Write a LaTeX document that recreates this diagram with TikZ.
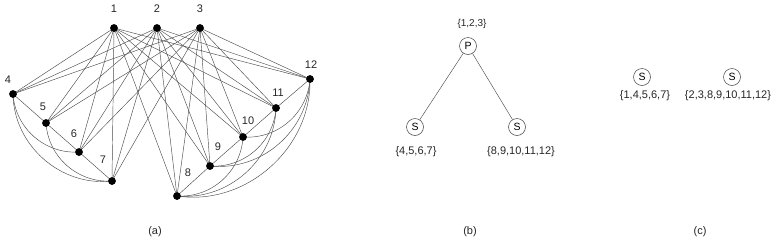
\documentclass[tikz,border=0pt]{standalone}
\usepackage{fontspec}
\setmainfont{Liberation Sans}
\begin{document}
\begin{tikzpicture}[x=1pt,y=-1pt,
  dot/.style={circle,fill=black,inner sep=0pt,minimum size=7.5pt},
  lbl/.style={font=\fontsize{11}{12}\selectfont,text=black!85,inner sep=0pt},
  edge/.style={draw=black!70,line width=0.45pt},
  snode/.style={circle,draw=black!75,line width=0.5pt,minimum size=17pt,inner sep=0pt,font=\fontsize{10.5}{11}\selectfont},
  setl/.style={font=\fontsize{11}{12}\selectfont,text=black!85,inner sep=0pt},
  captxt/.style={font=\fontsize{11}{12}\selectfont,text=black!85,inner sep=0pt}]
\useasboundingbox (0,0) rectangle (777,242);
% (a)
\node[dot] (n1) at (114,28) {};
\node[dot] (n2) at (157,28) {};
\node[dot] (n3) at (200,28) {};
\node[dot] (n4) at (13,94) {};
\node[dot] (n5) at (46,123) {};
\node[dot] (n6) at (79,152) {};
\node[dot] (n7) at (112,181) {};
\node[dot] (n8) at (177,196) {};
\node[dot] (n9) at (210,166) {};
\node[dot] (n10) at (243,137) {};
\node[dot] (n11) at (276,108) {};
\node[dot] (n12) at (310,79) {};
\node[lbl] (l1) at ([shift={(0,-19)}]n1) {1};
\node[lbl] (l2) at ([shift={(0,-19)}]n2) {2};
\node[lbl] (l3) at ([shift={(0,-19)}]n3) {3};
\node[lbl] (l4) at ([shift={(-5,-14)}]n4) {4};
\node[lbl] (l5) at ([shift={(-3,-16)}]n5) {5};
\node[lbl] (l6) at ([shift={(-5,-18)}]n6) {6};
\node[lbl] (l7) at ([shift={(-9,-21)}]n7) {7};
\node[lbl] (l8) at ([shift={(11,-23)}]n8) {8};
\node[lbl] (l9) at ([shift={(8,-19)}]n9) {9};
\node[lbl] (l10) at ([shift={(5,-16)}]n10) {10};
\node[lbl] (l11) at ([shift={(2,-15)}]n11) {11};
\node[lbl] (l12) at ([shift={(1,-14)}]n12) {12};
\foreach \a in {1,2,3}{
  \foreach \b in {4,...,12}{
    \draw[edge] (n\a.center) -- (n\b.center);
  }
}
\draw[edge] (n4.center) -- (n5.center) -- (n6.center) -- (n7.center);
\draw[edge] (n4.center) to[bend right=45] (n6.center);
\draw[edge] (n4.center) to[bend right=48] (n7.center);
\draw[edge] (n5.center) to[bend right=45] (n7.center);
\draw[edge] (n8.center) -- (n9.center) -- (n10.center) -- (n11.center) -- (n12.center);
\draw[edge] (n8.center) to[bend right=45] (n10.center);
\draw[edge] (n8.center) to[bend right=47] (n11.center);
\draw[edge] (n8.center) to[bend right=50] (n12.center);
\draw[edge] (n9.center) to[bend right=45] (n11.center);
\draw[edge] (n9.center) to[bend right=47] (n12.center);
\draw[edge] (n10.center) to[bend right=45] (n12.center);
\foreach \k in {1,...,12}{\node[dot] at (n\k) {};}
\node[captxt] (ca) at (155,232) {(a)};
% (b)
\node[snode] (p) at (468,46) {P};
\node[snode] (s1) at (415,127) {S};
\node[snode] (s2) at (517,127) {S};
\draw[edge] (p) -- (s1);
\draw[edge] (p) -- (s2);
\node[setl,font=\fontsize{10}{11}\selectfont] (tp) at (472,24) {\{1,2,3\}};
\node[setl] (ts1) at (416,152) {\{4,5,6,7\}};
\node[setl] (ts2) at (521,152) {\{8,9,10,11,12\}};
\node[captxt] (cb) at (470,232) {(b)};
% (c)
\node[snode] (c1) at (642,77) {S};
\node[snode] (c2) at (732,77) {S};
\node[setl] (tc1) at (645,96) {\{1,4,5,6,7\}};
\node[setl] (tc2) at (728,96) {\{2,3,8,9,10,11,12\}};
\node[captxt] (cc) at (700,232) {(c)};
\end{tikzpicture}
\end{document}
